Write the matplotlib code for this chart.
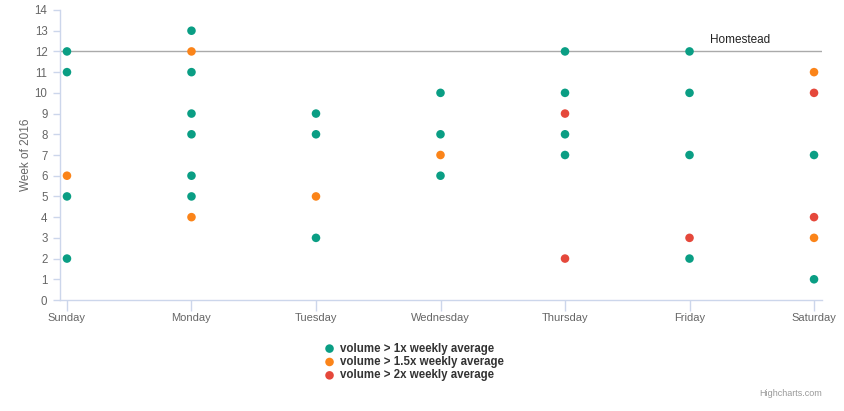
import matplotlib
matplotlib.use("Agg")
import matplotlib.pyplot as plt

plt.rcParams['font.family'] = ['Liberation Sans', 'DejaVu Sans']

days = ["Sunday", "Monday", "Tuesday", "Wednesday", "Thursday", "Friday", "Saturday"]

# (day index, week) per series
vol1x_day = [0, 0, 0, 0, 1, 1, 1, 1, 1, 1, 2, 2, 2, 3, 3, 3, 4, 4, 4, 4, 5, 5, 5, 5, 6, 6]
vol1x_week = [12, 11, 5, 2, 13, 11, 9, 8, 6, 5, 9, 8, 3, 10, 8, 6, 12, 10, 8, 7, 12, 10, 7, 2, 7, 1]
vol15x_day = [0, 1, 1, 2, 3, 6, 6]
vol15x_week = [6, 12, 4, 5, 7, 11, 3]
vol2x_day = [4, 4, 5, 6, 6]
vol2x_week = [9, 2, 3, 10, 4]

series_names = ["volume > 1x weekly average", "volume > 1.5x weekly average", "volume > 2x weekly average"]
colors = ["#0a9e84", "#fb8419", "#e5483b"]

plotline_y = 12
plotline_label = "Homestead"

fig = plt.figure(figsize=(8.45, 4.11), dpi=100)
ax = fig.add_axes([60 / 845, 111 / 411, 762 / 845, 290 / 411])

axis_col = "#ccd6eb"
ax.axhline(plotline_y, color="#aaaaaa", lw=1, zorder=1)
ax.text(0.932, plotline_y + 0.25, plotline_label, transform=ax.get_yaxis_transform(),
        ha="right", va="bottom", fontsize=8.5, color="#222222")

handles = []
for xs, ys, c, name in zip([vol1x_day, vol15x_day, vol2x_day],
                           [vol1x_week, vol15x_week, vol2x_week], colors, series_names):
    h = ax.scatter(xs, ys, s=38, color=c, edgecolors="none", zorder=3, label=name)
    handles.append(h)

ax.set_xlim(-0.056, 6.064)
ax.set_ylim(0, 14)
ax.set_xticks(range(len(days)))
ax.set_xticklabels(days)
ax.set_yticks(range(0, 15))

for s in ["top", "right"]:
    ax.spines[s].set_visible(False)
for s in ["left", "bottom"]:
    ax.spines[s].set_color(axis_col)
    ax.spines[s].set_linewidth(1)
ax.tick_params(axis="x", colors=axis_col, length=8, width=1, labelcolor="#666666",
               labelsize=8, pad=1)
ax.tick_params(axis="y", colors=axis_col, length=5, width=1, labelcolor="#666666",
               labelsize=8.3, pad=4)
ax.set_ylabel("Week of 2016", color="#666666", fontsize=8.5, labelpad=2)

leg = fig.legend(handles=handles, loc="upper left", bbox_to_anchor=(318 / 845, 1 - 338 / 411),
                 frameon=False, handletextpad=0.3, labelspacing=0.12, borderaxespad=0,
                 prop={"weight": "bold", "size": 8.3}, handlelength=1.2, markerscale=1.0)
for t in leg.get_texts():
    t.set_color("#333333")

fig.text(822 / 845, 1 - 393 / 411, "Highcharts.com", ha="right", va="center",
         fontsize=6.5, color="#999999")

fig.savefig("out.png", dpi=100)
